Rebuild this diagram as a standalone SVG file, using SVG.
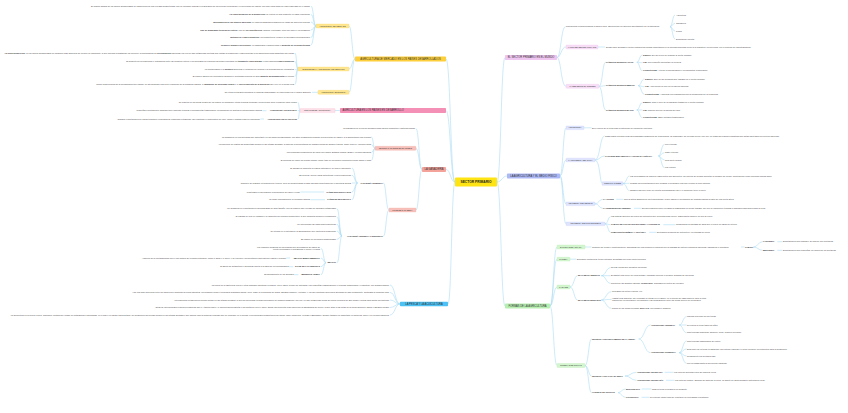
<svg xmlns="http://www.w3.org/2000/svg" width="848" height="413" viewBox="0 0 848 413">
<style>
text{font-family:"Liberation Sans",Arial,sans-serif;fill:#3c3c3c;font-size:2.1px}
.e{text-anchor:end}
.mid{text-anchor:middle}
.b{font-weight:bold;font-size:1.9px;fill:#262626}
.k{font-weight:bold}
.m{font-size:2.6px;fill:#2f2f2f}
.s{font-size:1.9px;fill:#333}
.c{fill:none;stroke:#abdcf3;stroke-width:.6}
.y1{fill:#fdd03b}.y2{fill:#fee690;stroke:#fbd257;stroke-width:.3}
.p1{fill:#f490b6}.p2{fill:#fde1ea;stroke:#f7b9cf;stroke-width:.3}
.r1{fill:#f4a39b}.r2{fill:#f8c0ba;stroke:#f3a9a2;stroke-width:.3}
.bl{fill:#4cc2f4}
.v1{fill:#efc6ef}.v2{fill:#f7def6;stroke:#eec4ee;stroke-width:.3}
.u1{fill:#adb9f6}.u2{fill:#dfe4fd;stroke:#c2cbf8;stroke-width:.3}
.g1{fill:#b7efb1}.g2{fill:#d4f6cf;stroke:#b5eaae;stroke-width:.3}
</style>
<rect width="848" height="413" fill="#ffffff"/>
<g id="connectors">
<path class="c" d="M455 182C450.5 182 450.5 59 446 59M455 182C450.5 182 450.5 110.5 446 110.5M455 182C450.5 182 450.5 169.5 446 169.5M455 182C451.5 182 451.5 304 448 304"/>
<path class="c" d="M497 182C501 182 501 57.5 505 57.5M497 182C502 182 502 176 507 176M497 182C501 182 501 306 505 306"/>
<path class="c" d="M355 59C352 59 352 26 349 26M355 59C352 59 352 69 349 69M355 59C352 59 352 92.3 349 92.3"/>
<path class="c" d="M316 26C313.5 26 313.5 6 311 6M316 26C313.5 26 313.5 14.5 311 14.5M316 26C313.5 26 313.5 22 311 22M316 26C313.5 26 313.5 30 311 30M316 26C313.5 26 313.5 37.5 311 37.5M316 26C313.5 26 313.5 45 311 45"/>
<path class="c" d="M298 69C296.5 69 296.5 53 295 53M298 69C296.5 69 296.5 61.5 295 61.5M298 69C296.5 69 296.5 69.5 295 69.5M298 69C296.5 69 296.5 76.5 295 76.5M298 69C296.5 69 296.5 84.5 295 84.5"/>
<path class="c" d="M318 92.3H312M340 110.5H335"/>
<path class="c" d="M300 110.6C299 110.6 299 102.3 298 102.3M300 110.6C299 110.6 299 110.7 298 110.7M300 110.6C299 110.6 299 119 298 119M266.5 110.7H262.5M264 119H260.5"/>
<path class="c" d="M422 169.5C419 169.5 419 128.7 416 128.7M422 169.5C419 169.5 419 148.3 416 148.3M422 169.5C419 169.5 419 210 416 210"/>
<path class="c" d="M375 148.3C373.2 148.3 373.2 137 371.5 137M375 148.3C373.2 148.3 373.2 144.7 371.5 144.7M375 148.3C373.2 148.3 373.2 152.7 371.5 152.7M375 148.3C373.2 148.3 373.2 160.3 371.5 160.3"/>
<path class="c" d="M389 210C386 210 386 183 383.5 183M389 210C386 210 386 236 383.5 236"/>
<path class="c" d="M357.5 183C354.8 183 354.8 168 352 168M357.5 183C354.8 183 354.8 175.3 352 175.3M357.5 183C354.8 183 354.8 183 352 183M357.5 183C354.8 183 354.8 192 352 192M357.5 183C354.8 183 354.8 199.7 352 199.7M324 192H300.5M325 199.7H310.5"/>
<path class="c" d="M342 236C339.5 236 339.5 208.7 337 208.7M342 236C339.5 236 339.5 216.7 337 216.7M342 236C339.5 236 339.5 224.3 337 224.3M342 236C339.5 236 339.5 231 337 231M342 236C339.5 236 339.5 239.3 337 239.3M342 236C339.5 236 339.5 262.7 337 262.7"/>
<path class="c" d="M326 262.7C323.5 262.7 323.5 248.4 321 248.4M326 262.7C323.5 262.7 323.5 258 321 258M326 262.7C323.5 262.7 323.5 266.7 321 266.7M326 262.7C323.5 262.7 323.5 274.7 321 274.7M290.2 258H286.5M293.3 266.7H289.5M298.5 274.7H294.5"/>
<path class="c" d="M400 304C395 304 395 285 390 285M400 304C395 304 395 292.5 390 292.5M400 304C395 304 395 300 390 300M400 304C395 304 395 307.5 390 307.5M400 304C395 304 395 315 390 315"/>
<path class="c" d="M557 57.5C561 57.5 561 26.7 565.5 26.7M557 57.5C561 57.5 561 47 566 47M557 57.5C561 57.5 561 86.3 566 86.3"/>
<path class="c" d="M670 26.7C672.5 26.7 672.5 15 675 15M670 26.7C672.5 26.7 672.5 23.3 675 23.3M670 26.7C672.5 26.7 672.5 31 675 31M670 26.7C672.5 26.7 672.5 39 675 39M598 47H605"/>
<path class="c" d="M599 86.3C602.5 86.3 602.5 62.3 605.5 62.3M599 86.3C602.5 86.3 602.5 85.7 605.5 85.7M599 86.3C602.5 86.3 602.5 110 605.5 110"/>
<path class="c" d="M636.8 62.3C639.5 62.3 639.5 55 642.3 55M636.8 62.3C639.5 62.3 639.5 62.7 642.3 62.7M636.8 62.3C639.5 62.3 639.5 70.7 642.3 70.7M638.2 85.7C641.2 85.7 641.2 79 644.3 79M638.2 85.7C641.2 85.7 641.2 86.7 644.3 86.7M638.2 85.7C641.2 85.7 641.2 94.3 644.3 94.3M636.8 110C639.5 110 639.5 102.7 642.3 102.7M636.8 110C639.5 110 639.5 110 642.3 110M636.8 110C639.5 110 639.5 117.7 642.3 117.7"/>
<path class="c" d="M560 176C563 176 563 127.8 566 127.8M560 176C563 176 563 160 566 160M560 176C563 176 563 203.8 566 203.8M560 176C563 176 563 223.8 566 223.8M584 127.8H591.5"/>
<path class="c" d="M595 160C600 160 600 136 604.5 136M595 160C600 160 600 156 604.5 156M595 160C600 160 600 183.5 602 183.5"/>
<path class="c" d="M658.5 156C661.3 156 661.3 144.3 664.5 144.3M658.5 156C661.3 156 661.3 152.7 664.5 152.7M658.5 156C661.3 156 661.3 160 664.5 160M658.5 156C661.3 156 661.3 167.7 664.5 167.7"/>
<path class="c" d="M623 183.5C626.5 183.5 626.5 176 629.5 176M623 183.5C626.5 183.5 626.5 183.3 629.5 183.3M623 183.5C626.5 183.5 626.5 190.7 629.5 190.7"/>
<path class="c" d="M595 203.8C599 203.8 599 199.3 602.5 199.3M595 203.8C599 203.8 599 208.3 602.5 208.3M616.3 199.3H623.5M634 208.3H641.5"/>
<path class="c" d="M605 223.8C608 223.8 608 216.7 610.5 216.7M605 223.8C608 223.8 608 224.7 610.5 224.7M605 223.8C608 223.8 608 232.3 610.5 232.3M663.3 224.7H675.5M649.2 232.3H656.5"/>
<path class="c" d="M550 306C553.5 306 553.5 247 557 247M550 306C553.5 306 553.5 259.2 557 259.2M550 306C553.5 306 553.5 287 557 287M550 306C553.5 306 553.5 365.5 557 365.5"/>
<path class="c" d="M585 247H591.5M741 247H744.5M753.5 247C758 247 758 241.7 762.5 241.7M753.5 247C758 247 758 250.3 762.5 250.3M777.3 241.7H782.5M777.3 250.3H782.5M570 259.2H576.5"/>
<path class="c" d="M570 287C574 287 574 275.7 577.5 275.7M570 287C574 287 574 300 577.5 300"/>
<path class="c" d="M601.3 275.7C606 275.7 606 267.7 610.5 267.7M601.3 275.7C606 275.7 606 275.7 610.5 275.7M601.3 275.7C606 275.7 606 283.3 610.5 283.3M601.3 300C606 300 606 291.7 611.5 291.7M601.3 300C606 300 606 299.4 611.5 299.4M601.3 300C606 300 606 308.3 611.5 308.3"/>
<path class="c" d="M585 365.5C588.5 365.5 588.5 339 591.5 339M585 365.5C588.5 365.5 588.5 376 591.5 376M585 365.5C588.5 365.5 588.5 392.7 591.5 392.7"/>
<path class="c" d="M638.7 339C644.5 339 644.5 325 650.5 325M638.7 339C644.5 339 644.5 352.7 650.5 352.7"/>
<path class="c" d="M679.2 325C682.8 325 682.8 316.7 686.5 316.7M679.2 325C682.8 325 682.8 325 686.5 325M679.2 325C682.8 325 682.8 332.7 686.5 332.7M679.2 352.7C682.8 352.7 682.8 341 686.5 341M679.2 352.7C682.8 352.7 682.8 349 686.5 349M679.2 352.7C682.8 352.7 682.8 356 686.5 356M679.2 352.7C682.8 352.7 682.8 363.3 686.5 363.3"/>
<path class="c" d="M625 376C630.7 376 630.7 372.3 636.5 372.3M625 376C630.7 376 630.7 380.3 636.5 380.3M664.6 372.3H673.5M666 380.3H674.5"/>
<path class="c" d="M618 392.7C621.5 392.7 621.5 389 625.5 389M618 392.7C621.5 392.7 621.5 397.3 625.5 397.3M641.6 389H651.5M641.6 397.3H649.5"/>
</g>

<g id="sector-primario"><rect x="455" y="177.5" width="42" height="9" rx="1" fill="#ffe414"/><text x="476" y="183.2" class="mid k" style="font-size:3.3px;fill:#222">SECTOR PRIMARIO</text></g>

<g id="agr-mercado-paises"><rect class="y1" x="355" y="56.5" width="91" height="5" rx="0.8"/><text class="m mid" x="400.5" y="59.93">AGRICULTURA DE MERCADO EN LOS PAÍSES DESARROLLADOS</text></g>
<g id="agr-mercado"><rect class="y2" x="316" y="24" width="33" height="4" rx="0.7"/><text class="s mid" x="332.5" y="26.68">AGRICULTURA DE MERCADO</text></g>
<g id="agr-mercado-hojas">
<text class="e" x="310" y="6.75">El modelo agrario de los países desarrollados se caracteriza por una elevada productividad, que se consigue gracias a la aplicación de las nuevas tecnologías y a la inversión de capital, con muy poca mano de obra empleada en el campo</text>
<text class="e" x="310" y="15.25"><tspan class="k">La especialización de la producción:</tspan> se cultiva un solo producto en cada explotación</text>
<text class="e" x="310" y="22.75"><tspan class="k">Mecanización de las labores agrícolas:</tspan> se emplea maquinaria moderna en todas las fases del proceso</text>
<text class="e" x="310" y="30.75"><tspan class="k">Uso de avanzadas técnicas de cultivo:</tspan> uso de <tspan class="k">TRANSGÉNICOS</tspan>, abonos, pesticidas, riego por goteo e invernaderos</text>
<text class="e" x="310" y="38.25"><tspan class="k">Métodos de comercialización:</tspan> los productos se venden en mercados internacionales</text>
<text class="e" x="310" y="45.75"><tspan class="k">Requiere grandes inversiones:</tspan> en maquinaria y abonos para el <tspan class="k">aumento de la productividad</tspan></text>
</g>
<g id="efectos"><rect class="y2" x="298" y="67" width="51" height="4" rx="0.7"/><text class="s mid" x="323.5" y="69.68">EFECTOS DE LA AGRICULTURA DE MERCADO</text></g>
<g id="efectos-hojas">
<text class="e" x="294" y="53.75"><tspan class="k">La sobreproducción:</tspan> en los países desarrollados se producen más alimentos de los que se consumen, lo que provoca la bajada de los precios y la acumulación de <tspan class="k">EXCEDENTES</tspan> agrícolas; por ello se han establecido políticas que limitan la producción y subvencionan a los agricultores para garantizar sus rentas</text>
<text class="e" x="294" y="62.25">El aumento de la producción y la distancia entre las zonas de cultivo y los mercados de consumo ha hecho necesario un <tspan class="k">transporte especializado</tspan> y una compleja <tspan class="k">comercialización</tspan></text>
<text class="e" x="294" y="70.25">La mecanización y la <tspan class="k">química</tspan> aumentan el consumo de energía y la dependencia de la industria</text>
<text class="e" x="294" y="77.25">El empleo abusivo de fertilizantes químicos y pesticidas provoca un gran <tspan class="k">impacto medioambiental</tspan> en suelos</text>
<text class="e" x="294" y="85.25">Como consecuencia de la mecanización del campo, se ha producido una fuerte reducción de la población agraria, el <tspan class="k">abandono de las zonas rurales</tspan> y el <tspan class="k">envejecimiento de la población</tspan> que vive en el medio rural</text>
</g>
<g id="agr-ecologica"><rect class="y2" x="318" y="90.3" width="31" height="4" rx="0.7"/><text class="s mid" x="333.5" y="92.98">AGRICULTURA ECOLÓGICA</text></g>
<g id="agr-ecologica-hoja"><text class="e" x="311" y="93.05">No utiliza fertilizantes químicos ni semillas modificadas; es respetuosa con el medio ambiente</text></g>

<g id="agr-desarrollo"><rect class="p1" x="340" y="108" width="106" height="5" rx="0.8"/><text class="m" x="342.5" y="111.43">AGRICULTURA EN LOS PAÍSES EN DESARROLLO</text></g>
<g id="tipos-agricultura"><rect class="p2" x="300" y="108.6" width="35" height="4" rx="0.7"/><text class="s mid" x="317.5" y="111.28">LOS TIPOS DE AGRICULTURA</text></g>
<g id="tipos-agricultura-hojas">
<text class="e" x="297" y="103.05">Se practica en las zonas rurales de los países en desarrollo; utiliza técnicas sencillas y genera muy poco excedente para vender</text>
<text class="e" x="262" y="111.45">Pequeñas explotaciones familiares que emplean técnicas y herramientas tradicionales; la producción se destina al autoconsumo familiar</text>
<text class="b e" x="297" y="111.38">AGRICULTURA TRADICIONAL</text>
<text class="e" x="260" y="119.75">Grandes explotaciones de zonas tropicales, propiedad de empresas extranjeras, que practican el monocultivo de café, cacao o plátano para la exportación</text>
<text class="b e" x="297" y="119.68">AGRICULTURA DE PLANTACIÓN</text>
</g>

<g id="ganaderia"><rect class="r1" x="422" y="167" width="24" height="5" rx="0.8"/><text class="m mid" x="434" y="170.43">LA GANADERÍA</text></g>
<g id="ganaderia-def"><text class="e" x="415" y="129.45">La ganadería es la cría de animales para obtener alimentos y materias primas</text></g>
<g id="sector-ganadero"><rect class="r2" x="375" y="146.3" width="41" height="4" rx="0.7"/><text class="s mid" x="395.5" y="148.98">SECTOR GANADERO EN EL MUNDO</text></g>
<g id="sector-ganadero-hojas">
<text class="e" x="371" y="137.75">La ganadería es una actividad muy importante en los países desarrollados, con altos rendimientos gracias a la selección de razas y a la alimentación con piensos</text>
<text class="e" x="371" y="145.45">La superficie de pastos ha aumentado mucho en las últimas décadas, a costa de la deforestación de grandes áreas de bosque tropical, sobre todo en América Latina</text>
<text class="e" x="371" y="153.45">Los principales productores de carne son China, Estados Unidos, Brasil y la Unión Europea</text>
<text class="e" x="371" y="161.05">El consumo de carne ha crecido mucho, sobre todo en los países emergentes como China e India</text>
</g>
<g id="tipos-ganaderia"><rect class="r2" x="389" y="208" width="27" height="4" rx="0.7"/><text class="s mid" x="402.5" y="210.68">TIPOS DE GANADERÍA</text></g>
<g id="ganaderia-extensiva"><text class="b e" x="383" y="183.68">GANADERÍA EXTENSIVA</text></g>
<g id="extensiva-hojas">
<text class="e" x="351" y="168.75">El ganado se alimenta en pastos naturales y se mueve libremente</text>
<text class="e" x="351" y="176.05">En general, son de razas autóctonas y poco productivas</text>
<text class="e" x="351" y="183.75">Requiere de grandes extensiones de terreno, pero su productividad es baja. Es más respetuosa con el bienestar animal</text>
<text class="e" x="300" y="192.75">Practicada en las grandes explotaciones de carne y leche</text>
<text class="b e" x="351" y="192.68">PAÍSES DESARROLLADOS</text>
<text class="e" x="310" y="200.45">Se dirige principalmente al consumo familiar</text>
<text class="b e" x="351" y="200.38">PAÍSES EN DESARROLLO</text>
</g>
<g id="ganaderia-intensiva"><text class="b e" x="383" y="236.68">GANADERÍA INTENSIVA O INDUSTRIAL</text></g>
<g id="intensiva-hojas">
<text class="e" x="336" y="209.45">Se desarrolla en explotaciones especializadas de gran tamaño, con un número muy elevado de animales estabulados</text>
<text class="e" x="336" y="217.45">El ganado se cría en establos y se alimenta con piensos compuestos, lo que aumenta mucho su rendimiento</text>
<text class="e" x="336" y="225.05">Se seleccionan las razas más productivas</text>
<text class="e" x="336" y="231.75">Se integra en el sistema de la agroindustria, que controla la producción</text>
<text class="e" x="336" y="240.05">Es común en los países desarrollados</text>
</g>
<g id="impacto"><text class="b e" x="336" y="263.38">IMPACTO</text></g>
<g id="impacto-hojas">
<text class="e" x="320" y="247.85">Los residuos orgánicos de las granjas son generadores de gases de</text>
<text class="e" x="320" y="250.45">efecto invernadero y contaminan el suelo y el agua</text>
<text class="e" x="286" y="258.75">Aumento de la contaminación por el uso masivo de recursos naturales, como el agua y el suelo, y de energía; y deforestación para obtener pastos y piensos</text>
<text class="b e" x="320" y="258.68">IMPACTO MEDIOAMBIENTAL</text>
<text class="e" x="289" y="267.45">El abuso de antibióticos y hormonas afecta a la salud de los consumidores</text>
<text class="b e" x="320" y="267.38">SALUD DE LAS PERSONAS</text>
<text class="e" x="294" y="275.45">El hacinamiento de los animales</text>
<text class="b e" x="320" y="275.38">BIENESTAR ANIMAL</text>
</g>

<g id="pesca"><rect class="bl" x="400" y="301.8" width="48" height="4.5" rx="0.8"/><text class="m mid" x="424" y="304.98">LA PESCA Y LA ACUICULTURA</text></g>
<g id="pesca-hojas">
<text class="e" x="389" y="285.75">La pesca es la captura de peces y otros animales acuáticos en mares, ríos y lagos. Puede ser artesanal, con pequeñas embarcaciones y técnicas tradicionales, o industrial, con grandes barcos</text>
<text class="e" x="389" y="293.25">Hay una gran diferencia entre los países que practican la pesca industrial, con grandes flotas y tecnología avanzada (China, Perú, India, la Federación de Rusia, Estados Unidos y Vietnam), y los que practican una pesca artesanal de bajo rendimiento, destinada al consumo local</text>
<text class="e" x="389" y="300.75">La producción pesquera ha crecido mucho en las últimas décadas, lo que ha provocado la sobreexplotación de muchos caladeros. Por ello, se han establecido zonas de pesca exclusiva de 200 millas y cuotas para limitar las capturas</text>
<text class="e" x="389" y="308.25">Otras de las principales regiones pesqueras son el Atlántico Norte, el Pacífico Noroccidental y las costas de Perú y Chile, donde las corrientes frías favorecen la abundancia de peces, lo que atrae a las flotas de la Unión Europea, Japón y Estados Unidos</text>
<text class="e" x="389" y="315.75">La acuicultura es la cría de peces, moluscos, crustáceos y algas en instalaciones controladas, en el mar o en aguas continentales. Su producción ha crecido mucho en las últimas décadas y hoy supone casi la mitad del pescado que se consume en el mundo. Los principales productores son China, India, Indonesia, Vietnam y Bangladés, aunque también es importante en Noruega, Chile y en la Unión Europea</text>
</g>

<g id="sector-mundo"><rect class="v1" x="505" y="55" width="52" height="5" rx="0.8"/><text class="m mid" x="531" y="58.43">EL SECTOR PRIMARIO EN EL MUNDO</text></g>
<g id="recursos"><text x="566" y="27.45">Proporciona recursos básicos a países ricos, aquellos que no obtienen directamente de la naturaleza</text></g>
<g id="recursos-hojas">
<text x="676" y="15.75">Agricultura</text>
<text x="676" y="24.05">Ganadería</text>
<text x="676" y="31.75">Pesca</text>
<text x="676" y="39.75">Explotación forestal</text>
</g>
<g id="valor"><rect class="v2" x="566" y="45" width="32" height="4" rx="0.7"/><text class="s mid" x="582" y="47.68">VALOR DEL SECTOR PRIMARIO</text></g>
<g id="valor-hoja"><text x="606" y="47.75">Desde hace décadas el sector primario ha perdido importancia en la economía mundial frente a la industria y los servicios, por el proceso de industrialización</text></g>
<g id="paises-ingreso"><rect class="v2" x="566" y="84.3" width="33" height="4" rx="0.7"/><text class="s mid" x="582.5" y="86.98">PAÍSES SEGÚN EL INGRESO</text></g>
<g id="ingresos-altos"><text class="b" x="606" y="62.98">PAÍSES DE INGRESOS ALTOS</text>
<text x="643" y="55.75"><tspan class="k">Empleo:</tspan> Del 2% al 5% se dedican al sector primario</text>
<text x="643" y="63.45"><tspan class="k">PIB:</tspan> Muy pequeño porcentaje en general</text>
<text x="643" y="71.45"><tspan class="k">Productividad:</tspan> Alta por la mecanización y los adelantos tecnológicos</text></g>
<g id="ingresos-medios"><text class="b" x="606" y="86.38">PAÍSES DE INGRESOS MEDIOS</text>
<text x="645" y="79.75"><tspan class="k">Empleo:</tspan> 20% de las personas que trabajan en el sector primario</text>
<text x="645" y="87.45"><tspan class="k">PIB:</tspan> Algo inferior al 10% de la riqueza nacional</text>
<text x="645" y="95.05"><tspan class="k">Productividad:</tspan> Aumentan los rendimientos por la introducción de la tecnología</text></g>
<g id="ingresos-bajos"><text class="b" x="606" y="110.68">PAÍSES DE INGRESOS BAJOS</text>
<text x="643" y="103.45"><tspan class="k">Empleo:</tspan> Casi el 60% de la población trabaja en el sector primario</text>
<text x="643" y="110.75"><tspan class="k">PIB:</tspan> Más del 30% de la riqueza del país</text>
<text x="643" y="118.45"><tspan class="k">Productividad:</tspan> Baja, métodos tradicionales</text></g>

<g id="medio-fisico"><rect class="u1" x="507" y="173.5" width="53" height="5" rx="0.8"/><text class="m mid" x="533.5" y="176.93">LA AGRICULTURA Y EL MEDIO FÍSICO</text></g>
<g id="agricultura"><rect class="u2" x="566" y="126" width="18" height="3.6" rx="0.6"/><text class="s mid" x="575" y="128.48">AGRICULTURA</text><text x="592" y="128.55">Es el cultivo de la tierra para la obtención de productos vegetales</text></g>
<g id="clima"><rect class="u2" x="566" y="158.2" width="29" height="3.6" rx="0.6"/><text class="s mid" x="580.5" y="160.68">LA INFLUENCIA DEL CLIMA</text>
<text x="605" y="136.75">Cada planta necesita unas determinadas condiciones de temperatura, de humedad y de luz para crecer. Por ello, no todas las regiones climáticas son aptas para todos los cultivos agrícolas</text></g>
<g id="factores"><text class="b" x="605" y="156.68">FACTORES QUE LIMITAN LA ACTIVIDAD AGRÍCOLA</text>
<text x="665" y="145.05">Frío extremo</text>
<text x="665" y="153.45">Calor extremo</text>
<text x="665" y="160.75">Una fuerte sequía</text>
<text x="665" y="168.45">Los vientos</text></g>
<g id="precipitaciones"><rect class="u2" x="602" y="181.7" width="21" height="3.6" rx="0.6"/><text class="s mid" x="612.5" y="184.18">PRECIPITACIONES</text>
<text x="630" y="176.75">Las necesidades de agua de cada cultivo son diferentes: los cultivos de secano soportan la escasez de lluvias, mientras que otros necesitan mucha agua</text>
<text x="630" y="184.05">Cuando las precipitaciones son escasas o irregulares, hay que recurrir al riego artificial</text>
<text x="630" y="191.45">También hay que tener en cuenta la humedad del aire y el agua que tiene el suelo</text></g>
<g id="relieve"><rect class="u2" x="566" y="202" width="29" height="3.6" rx="0.6"/><text class="s mid" x="580.5" y="204.48">INFLUENCIA DEL RELIEVE</text>
<text class="b" x="603" y="199.98">LA ALTITUD</text>
<text x="624" y="200.05">Con la altitud disminuyen las temperaturas, lo que impide el crecimiento de muchas plantas a partir de una cierta altura</text>
<text class="b" x="603" y="208.98">LA PENDIENTE DEL TERRENO</text>
<text x="642" y="209.05">En las pendientes muy elevadas la maquinaria no puede trabajar, por eso se construyen terrazas o bancales para aprovechar la tierra</text></g>
<g id="suelo"><rect class="u2" x="566" y="222" width="39" height="3.6" rx="0.6"/><text class="s mid" x="585.5" y="224.48">INFLUENCIA DEL TIPO DE SUELO</text>
<text x="611" y="217.45">Las plantas obtienen del suelo los nutrientes que necesitan para crecer. Cada planta requiere un tipo de suelo</text>
<text class="b" x="611" y="225.38">TAMAÑO DE LOS GRANOS DE TIERRA Y POROSIDAD</text>
<text x="676" y="225.45">Condicionan la cantidad de agua que el suelo es capaz de retener</text>
<text class="b" x="611" y="232.98">COMPOSICIÓN QUÍMICA Y ORGÁNICA</text>
<text x="657" y="233.05">Determina la riqueza de nutrientes y la fertilidad del suelo</text></g>

<g id="formas"><rect class="g1" x="505" y="303.5" width="45" height="5" rx="0.8"/><text class="m mid" x="527.5" y="306.93">FORMAS DE LA AGRICULTURA</text></g>
<g id="explotacion"><rect class="g2" x="557" y="245" width="28" height="4" rx="0.7"/><text class="s mid" x="571" y="247.68">EXPLOTACIÓN AGRARIA</text>
<text x="592" y="247.75">Conjunto de tierras y construcciones, agrupadas por una persona o empresa con la finalidad de obtener productos agrícolas, ganaderos o forestales</text>
<text class="b" x="745" y="247.68">TAMAÑO</text>
<text class="b" x="763" y="242.38">LATIFUNDIO</text>
<text x="783" y="242.45">Explotaciones muy grandes, de más de 100 hectáreas</text>
<text class="b" x="763" y="250.98">MINIFUNDIO</text>
<text x="783" y="251.05">Explotaciones muy pequeñas, de menos de 10 hectáreas</text></g>
<g id="parcela"><rect class="g2" x="557" y="257.3" width="13" height="3.8" rx="0.6"/><text class="s mid" x="563.5" y="259.88">PARCELA</text>
<text x="577" y="260.05">Extensión continua de tierra cultivada, delimitada por unos límites precisos</text></g>
<g id="paisajes"><rect class="g2" x="557" y="285" width="13" height="4" rx="0.7"/><text class="s mid" x="563.5" y="287.68">PAISAJES</text></g>
<g id="campos-abiertos"><text class="b" x="578" y="276.38">DE CAMPOS ABIERTOS</text>
<text x="611" y="268.45">No hay cercas que delimiten las fincas</text>
<text x="611" y="276.45">El hábitat rural suele ser concentrado, formando núcleos o pueblos, alejados de las fincas</text>
<text x="611" y="284.05">Típicos de las grandes llanuras: <tspan class="k">OPENFIELD</tspan>, dedicados al cultivo de cereales</text></g>
<g id="campos-cerrados"><text class="b" x="578" y="300.68">DE CAMPOS CERRADOS</text>
<text x="612" y="292.45">Cercados por setos o muros, etc.</text>
<text x="612" y="298.85">Hábitat rural disperso: las viviendas se sitúan en el campo, en el interior de cada parcela, junto a otros</text>
<text x="612" y="301.45">edificios de la explotación; los caminos y las separaciones entre las fincas suelen ser irregulares</text>
<text x="612" y="309.05">Propio de las zonas lluviosas: <tspan class="k">BOCAGE</tspan>, con prados y bosques</text></g>
<g id="sistemas"><rect class="g2" x="557" y="363.5" width="28" height="4" rx="0.7"/><text class="s mid" x="571" y="366.18">SISTEMAS DE CULTIVO</text></g>
<g id="aprovechamiento"><text class="b" x="592" y="339.68">SEGÚN EL APROVECHAMIENTO DE LA TIERRA</text></g>
<g id="agr-intensiva"><text class="b" x="651" y="325.68">AGRICULTURA INTENSIVA</text>
<text x="687" y="317.45">Máximo provecho de las tierras</text>
<text x="687" y="325.75">Se cultiva la tierra todos los años</text>
<text x="687" y="333.45">Usa técnicas modernas, abonos y riego; requiere inversión</text></g>
<g id="agr-extensiva"><text class="b" x="651" y="353.38">AGRICULTURA EXTENSIVA</text>
<text x="687" y="341.75">Usa técnicas tradicionales de cultivo</text>
<text x="687" y="349.75">Deja parte de la tierra en barbecho (sin cultivar) para que el suelo recupere los nutrientes para la producción</text>
<text x="687" y="356.75">Rendimiento por hectárea bajo</text>
<text x="687" y="364.05">Fue la usada hasta la Revolución Industrial</text></g>
<g id="agua"><text class="b" x="592" y="376.68">SEGÚN EL AGUA PARA EL RIEGO</text>
<text class="b" x="637" y="372.98">AGRICULTURA DE SECANO</text>
<text x="674" y="373.05">Los cultivos dependen solo del agua de lluvia</text>
<text class="b" x="637" y="380.98">AGRICULTURA DE REGADÍO</text>
<text x="675" y="381.05">Los cultivos reciben, además del agua de la lluvia, un aporte de agua mediante sistemas de riego</text></g>
<g id="variedad"><text class="b" x="592" y="393.38">VARIEDAD DE CULTIVOS</text>
<text class="b" x="626" y="389.68">MONOCULTIVO</text>
<text x="652" y="389.75">Toda la tierra se dedica a un producto</text>
<text class="b" x="626" y="397.98">POLICULTIVO</text>
<text x="650" y="398.05">Se cultivan varios tipos de vegetales en una misma explotación</text></g>
</svg>
